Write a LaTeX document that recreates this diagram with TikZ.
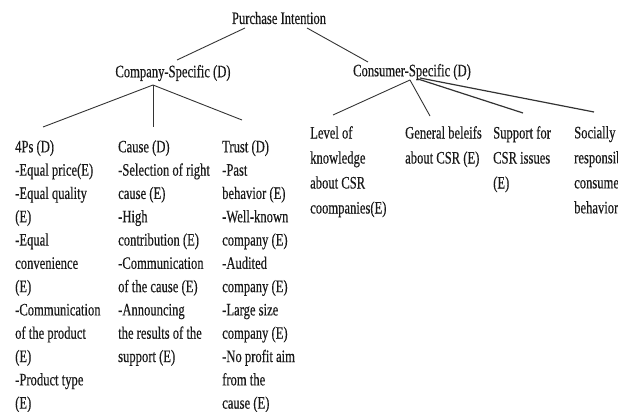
\documentclass[tikz,border=0pt]{standalone}
\usepackage{fontspec}
\setmainfont{Liberation Serif}[FakeStretch=0.72,FakeBold=0.35]
\begin{document}
\begin{tikzpicture}[x=1pt,y=-1pt]
            \tikzset{every node/.style={inner sep=0pt, text=black!90},
              head/.style={font=\fontsize{17.5}{21}\selectfont},
              leftcol/.style={anchor=north west, align=left, font=\fontsize{17.5}{23.3}\selectfont},
              rightcol/.style={anchor=north west, align=left, font=\fontsize{17.5}{25}\selectfont},
              link/.style={draw=black!80, line width=0.9pt}}
            \useasboundingbox (0,0) rectangle (618,412);
            \clip (0,0) rectangle (618,412);
            \node [head] (pi) at (279,18) {Purchase Intention};
            \node [head] (comp) at (173,73) {Company-Specific (D)};
            \node [head] (cons) at (412,72) {Consumer-Specific (D)};
            \node [leftcol] (fourps) at (15,140) {4Ps (D)\\-Equal price(E)\\-Equal quality\\(E)\\-Equal\\convenience\\(E)\\-Communication\\of the product\\(E)\\-Product type\\(E)};
            \node [leftcol] (cause) at (118,140) {Cause (D)\\-Selection of right\\cause (E)\\-High\\contribution (E)\\-Communication\\of the cause (E)\\-Announcing\\the results of the\\support (E)};
            \node [leftcol] (trust) at (222,140) {Trust (D)\\-Past\\behavior (E)\\-Well-known\\company (E)\\-Audited\\company (E)\\-Large size\\company (E)\\-No profit aim\\from the\\cause (E)};
            \node [rightcol] (level) at (310,126) {Level of\\knowledge\\about CSR\\coompanies(E)};
            \node [rightcol] (beliefs) at (405,126) {General beleifs\\about CSR (E)};
            \node [rightcol] (support) at (493,126) {Support for\\CSR issues\\(E)};
            \node [rightcol] (social) at (574,126) {Socially\\responsible\\consumer\\behavior};
            \draw [link] ([shift={(-34,10)}]pi.center) -- ([shift={(4,-13)}]comp.center);
            \draw [link] ([shift={(28,10)}]pi.center) -- ([shift={(-44,-10)}]cons.center);
            \draw [link] ([shift={(-20,12)}]comp.center) -- ([shift={(28,-13)}]fourps.north west);
            \draw [link] ([shift={(-20,12)}]comp.center) -- ([shift={(35,-13)}]cause.north west);
            \draw [link] ([shift={(-20,12)}]comp.center) -- ([shift={(20,-20)}]trust.north west);
            \draw [link] ([shift={(-2,8)}]cons.center) -- ([shift={(23,-11)}]level.north west);
            \draw [link] ([shift={(-2,8)}]cons.center) -- ([shift={(25,-10)}]beliefs.north west);
            \draw [link, line width=1.2pt] ([shift={(6,7)}]cons.center) -- ([shift={(30,-13)}]support.north west);
            \draw [link, line width=1.2pt] ([shift={(8,6)}]cons.center) -- ([shift={(20,-14)}]social.north west);
\end{tikzpicture}
\end{document}
